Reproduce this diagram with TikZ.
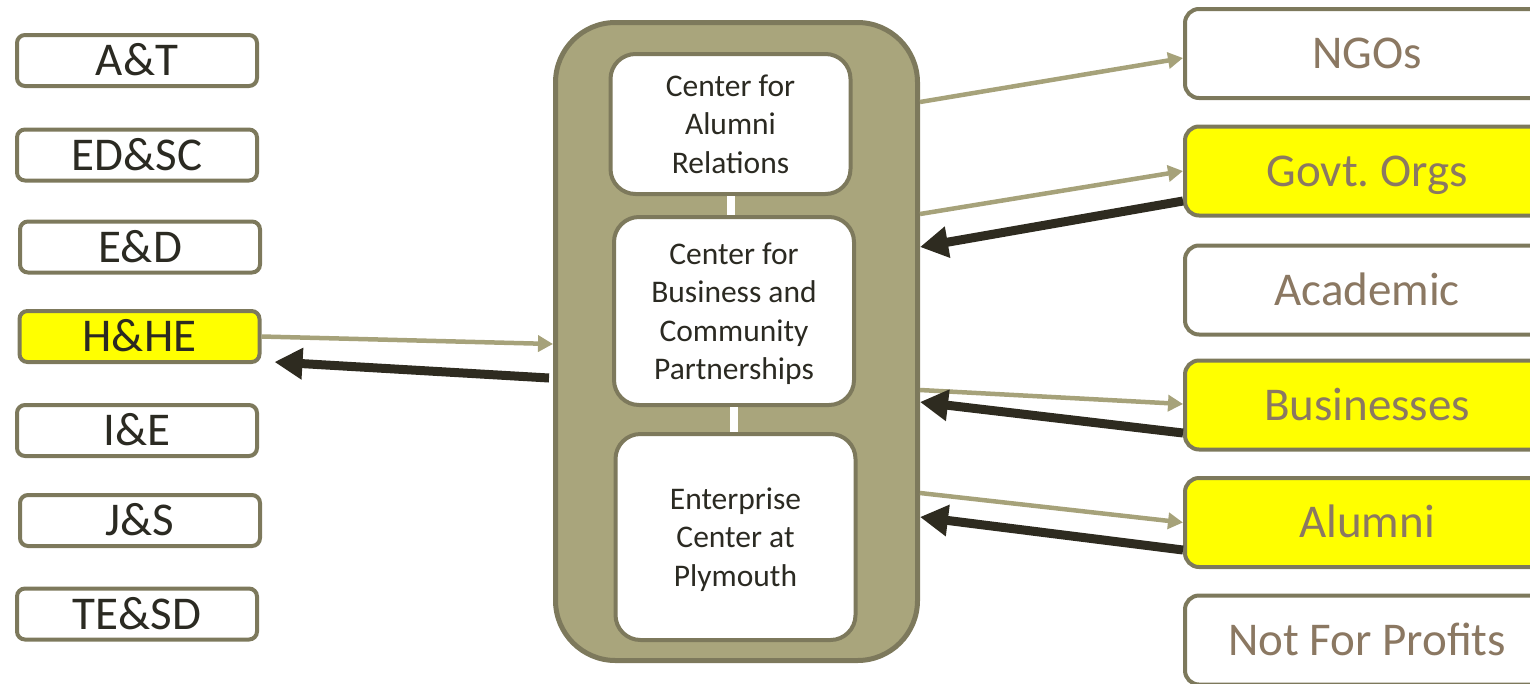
\documentclass[tikz,border=0pt]{standalone}
\usepackage{fontspec}
\setmainfont{Carlito}
\usetikzlibrary{arrows.meta}
\definecolor{edgeolive}{HTML}{7D795C}
\definecolor{hubfill}{HTML}{A9A57C}
\definecolor{feedline}{HTML}{A6A27A}
\definecolor{retline}{HTML}{2E2B20}
\definecolor{txtdark}{HTML}{2B2A22}
\definecolor{txtbrown}{HTML}{8B7862}
\definecolor{hotyellow}{HTML}{FFFF00}
\tikzset{
  unit/.style={draw=edgeolive, line width=4pt, rounded corners=8pt, fill=white,
    minimum width=240pt, minimum height=51pt, inner sep=0pt, text=txtdark,
    text height=30pt, text depth=0pt, font=\fontsize{47}{56}\selectfont},
  partner/.style={unit, rounded corners=14pt, minimum width=364pt,
    minimum height=89pt, text=txtbrown},
  hot/.style={fill=hotyellow},
  hubbox/.style={draw=edgeolive, line width=5pt, rounded corners=60pt,
    fill=hubfill, minimum width=362pt, minimum height=638pt},
  office/.style={draw=edgeolive, line width=4pt, rounded corners=25pt,
    fill=white, minimum width=240pt, inner sep=0pt, align=center,
    text depth=0pt, text=txtdark, font=\fontsize{31.5}{38.5}\selectfont},
  joint/.style={draw=white, line width=8pt},
  feed/.style={draw=feedline, line width=4.5pt,
    -{Triangle[length=15pt,width=16pt]}},
  ret/.style={draw=retline, line width=9pt,
    -{Triangle[length=28pt,width=30pt]}}
}
\begin{document}
\begin{tikzpicture}[x=1pt,y=-1pt]
  \useasboundingbox (0,0) rectangle (1530,683);
  \clip (0,0) rectangle (1530,683);
  \node[unit] (at) at (137,60.5) {A\&T};
  \node[unit] (edsc) at (137,155) {ED\&SC};
  \node[unit] (ed) at (140,247) {E\&D};
  \node[unit, hot] (hhe) at (139.5,336.5) {H\&HE};
  \node[unit] (ie) at (137,430.5) {I\&E};
  \node[unit] (js) at (140,520.5) {J\&S};
  \node[unit] (tesd) at (137,614) {TE\&SD};

  \node[hubbox] (hub) at (736.5,341.5) {};
  \node[office, minimum height=140pt] (car) at (730.5,124)
    {Center for\\Alumni\\Relations};
  \node[office, minimum height=188pt] (cbcp) at (734,311)
    {Center for\\Business and\\Community\\Partnerships};
  \node[office, minimum height=206pt] (ecp) at (735.5,537)
    {Enterprise\\Center at\\Plymouth};
  \draw[joint] (car.south) -- (car.south |- cbcp.north);
  \draw[joint] (cbcp.south) -- (cbcp.south |- ecp.north);

  \node[partner] (ngo) at (1367,53.5) {NGOs};
  \node[partner, hot] (govt) at (1367,171) {Govt.\ Orgs};
  \node[partner] (acad) at (1367,290) {Academic};
  \node[partner, hot] (bus) at (1367,405) {Businesses};
  \node[partner, hot] (alum) at (1367,522.5) {Alumni};
  \node[partner] (nfp) at (1367,640) {Not For Profits};

  \draw[feed] ([yshift=239.5pt]hub.east) -- ([yshift=-4.5pt]ngo.west);
  \draw[feed] ([yshift=127.5pt]hub.east) -- (govt.west);
  \draw[feed] ([yshift=-48.5pt]hub.east) -- ([yshift=1pt]bus.west);
  \draw[feed] ([yshift=-151.5pt]hub.east) -- (alum.west);
  \draw[feed] (hhe.east) -- ([yshift=-2.5pt]hub.west);

  \draw[ret] ([yshift=-30pt]govt.west) -- ([yshift=94.5pt]hub.east);
  \draw[ret] ([yshift=-28pt]bus.west) -- ([yshift=-60.5pt]hub.east);
  \draw[ret] ([yshift=-27.5pt]alum.west) -- ([yshift=-175.5pt]hub.east);
  \draw[ret] ([xshift=-4pt,yshift=-36.5pt]hub.west)
    -- ([xshift=13pt,yshift=-25.5pt]hhe.east);
\end{tikzpicture}
\end{document}
